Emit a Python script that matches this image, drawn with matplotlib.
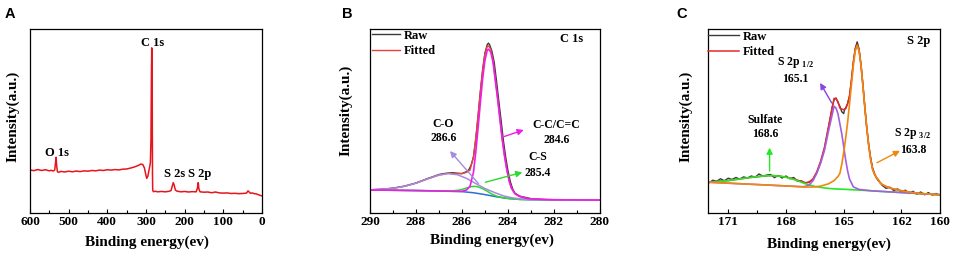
import numpy as np
import matplotlib
matplotlib.use("Agg")
import matplotlib.pyplot as plt

plt.rcParams['font.family'] = ['Liberation Serif', 'DejaVu Serif']
plt.rcParams['font.weight'] = 'bold'
plt.rcParams['mathtext.fontset'] = 'custom'
plt.rcParams['mathtext.rm'] = 'Liberation Serif:bold'
plt.rcParams['mathtext.bf'] = 'Liberation Serif:bold'

# ---------------- A: survey spectrum ----------------
survey_x = [600, 590, 580, 570, 560, 550, 545, 540, 536, 534, 532.5, 531, 529, 526, 520, 510, 500,
            490, 480, 470, 460, 450, 440, 430, 420, 410, 400, 390, 380, 370, 360, 350, 340, 330,
            320, 313, 308, 304, 301, 298, 295, 292, 290, 288.5, 287, 286, 285, 284, 283.5, 283,
            282.5, 281, 275, 270, 260, 250, 240, 235, 232, 229.5, 227, 224, 220, 210, 200, 190,
            180, 170, 167, 164.7, 163, 160, 150, 140, 130, 120, 110, 100, 90, 80, 70, 60, 50, 40,
            36, 33, 30, 25, 20, 15, 10, 5, 0]
survey_y = [23.4, 23.0, 23.6, 23.1, 23.5, 22.9, 23.2, 22.8, 23.3, 27.0, 30.3, 26.0, 22.4, 22.1, 22.6,
            22.3, 22.7, 22.4, 22.8, 22.5, 22.9, 22.7, 23.1, 22.9, 23.3, 23.1, 23.5, 23.3, 23.6, 23.4,
            23.8, 23.9, 24.4, 25.0, 25.8, 26.6, 26.3, 24.5, 21.5, 18.8, 20.0, 23.4, 25.5, 27.5, 40.0,
            70.0, 89.7, 80.0, 45.0, 20.0, 12.5, 11.6, 11.8, 11.5, 11.7, 11.5, 11.8, 12.2, 14.5, 16.5,
            15.2, 12.5, 11.9, 11.5, 11.7, 11.4, 11.6, 11.5, 13.5, 16.5, 13.0, 11.5, 11.3, 11.4, 11.0,
            11.4, 10.9, 10.8, 10.9, 10.6, 10.7, 10.5, 10.6, 10.8, 12.0, 11.4, 10.7, 10.9, 10.5, 10.4,
            10.0, 9.6, 9.3]

# ---------------- B: C 1s ----------------
c1s_raw_x = [290, 289.5, 289, 288.5, 288, 287.5, 287.2, 287, 286.8, 286.6, 286.4, 286.2, 286.0, 285.8,
             285.7, 285.6, 285.5, 285.4, 285.3, 285.2, 285.1, 285.0, 284.9, 284.85, 284.8, 284.7,
             284.6, 284.5, 284.4, 284.3, 284.2, 284.1, 284.0, 283.9, 283.8, 283.7, 283.5, 283.0,
             282.5, 282.0, 281.5, 281.0, 280.5, 280.0]
c1s_raw_y = [12.6, 12.9, 13.5, 14.6, 16.3, 18.7, 20.0, 20.9, 21.4, 21.7, 21.9, 21.6, 21.4, 22.5,
             23.5, 26.0, 30.5, 40.0, 52.5, 66.0, 78.0, 87.0, 91.5, 92.3, 91.5, 88.0, 82.0, 72.0,
             61.0, 50.5, 39.5, 30.5, 23.0, 17.2, 13.2, 10.8, 9.2, 7.8, 7.3, 7.0, 7.1, 6.9, 7.0, 6.9]
c1s_fit_x = [290, 289.5, 289, 288.5, 288, 287.5, 287, 286.6, 286.2, 286.0, 285.8, 285.65, 285.5, 285.4,
             285.3, 285.2, 285.1, 285.0, 284.9, 284.85, 284.75, 284.65, 284.55, 284.45, 284.35,
             284.25, 284.15, 284.05, 283.95, 283.85, 283.7, 283.5, 283.2, 283.0, 282.0, 280.0]
c1s_fit_y = [12.5, 12.8, 13.4, 14.5, 16.2, 18.5, 20.6, 21.5, 21.4, 21.4, 22.1, 23.3, 30.3, 40.6, 52.8,
             65.7, 77.6, 86.4, 90.5, 90.8, 89.0, 83.0, 72.8, 62.5, 51.4, 40.3, 31.2, 23.7, 17.6,
             13.6, 10.5, 9.0, 8.0, 7.6, 7.2, 7.0]
c1s_bg_x = [290, 288, 287, 286, 285.5, 285, 284.5, 284, 283.5, 283, 280]
c1s_bg_y = [12.5, 12.2, 12.0, 11.6, 11.0, 10.0, 8.8, 7.9, 7.4, 7.2, 7.0]
cs_x = [290, 287, 286.5, 286.2, 286.0, 285.8, 285.6, 285.45, 285.3, 285.1, 284.9, 284.7, 284.5,
        284.2, 283.8, 283.4, 280]
cs_y = [12.5, 12.0, 12.0, 12.3, 12.8, 13.6, 14.3, 14.5, 14.2, 13.2, 11.8, 10.3, 9.2, 8.2, 7.6, 7.3, 7.0]
co_x = [290, 289.5, 289, 288.5, 288, 287.5, 287, 286.6, 286.2, 285.8, 285.4, 285, 284.6, 284.2,
        283.8, 283.4, 283, 282, 280]
co_y = [12.6, 12.9, 13.4, 14.5, 16.2, 18.5, 20.6, 21.4, 20.8, 18.8, 16.0, 13.3, 11.2, 9.3, 8.2,
        7.6, 7.3, 7.1, 7.0]
cc_x = [290, 288, 286.5, 286.0, 285.8, 285.65, 285.5, 285.4, 285.3, 285.2, 285.1, 285.0, 284.9,
        284.85, 284.75, 284.65, 284.55, 284.45, 284.35, 284.25, 284.15, 284.05, 283.95, 283.85,
        283.7, 283.5, 283.2, 283.0, 282.0, 281.0, 280.0]
cc_y = [12.5, 12.2, 11.8, 11.8, 12.5, 14.5, 22.0, 33.0, 46.0, 60.0, 73.0, 83.0, 88.5, 89.0, 87.5,
        82.0, 72.0, 62.0, 51.0, 40.0, 31.0, 23.5, 17.5, 13.5, 10.5, 9.0, 8.0, 7.6, 7.2, 7.1, 7.0]

# ---------------- C: S 2p ----------------
s2p_raw_x = [172.0, 171.8, 171.6, 171.4, 171.2, 171.0, 170.8, 170.6, 170.4, 170.2, 170.0, 169.8,
             169.6, 169.4, 169.2, 169.0, 168.8, 168.6, 168.4, 168.2, 168.0, 167.8, 167.6, 167.4,
             167.2, 167.0, 166.8, 166.6, 166.4, 166.2, 166.0, 165.9, 165.8, 165.7, 165.6, 165.5,
             165.4, 165.3, 165.2, 165.1, 165.0, 164.95, 164.9, 164.8, 164.7, 164.6, 164.5, 164.4,
             164.3, 164.2, 164.1, 164.0, 163.9, 163.8, 163.7, 163.6, 163.5, 163.4, 163.3, 163.2,
             163.1, 163.0, 162.8, 162.6, 162.4, 162.2, 162.0, 161.8, 161.6, 161.4, 161.2, 161.0,
             160.8, 160.6, 160.4, 160.2, 160.0]
s2p_raw_y = [16.4, 17.8, 17.2, 18.6, 17.5, 18.9, 18.2, 19.3, 18.4, 19.6, 19.0, 20.1, 19.4, 21.2,
             20.0, 20.6, 20.9, 19.2, 20.4, 19.0, 20.1, 18.6, 19.3, 17.2, 17.5, 16.2, 16.9, 18.2,
             22.0, 27.5, 35.0, 40.5, 46.0, 51.5, 57.5, 61.5, 62.5, 60.0, 58.0, 55.0, 54.0, 56.5,
             57.0, 59.5, 63.5, 72.0, 82.0, 89.5, 93.0, 89.0, 80.5, 69.5, 57.0, 46.0, 37.0, 30.0,
             24.5, 21.5, 19.0, 17.5, 16.5, 15.0, 13.4, 14.0, 12.2, 13.1, 11.3, 12.4, 10.6, 11.8,
             10.2, 11.4, 9.9, 11.1, 9.7, 10.6, 9.6]
s2p_fit_x = [172, 171, 170, 169, 168.7, 168.3, 168, 167.5, 167, 166.8, 166.6, 166.4, 166.2, 166.0,
             165.8, 165.65, 165.5, 165.4, 165.3, 165.2, 165.1, 165.0, 164.9, 164.8, 164.7, 164.6,
             164.5, 164.4, 164.3, 164.2, 164.1, 164.0, 163.9, 163.8, 163.7, 163.6, 163.5, 163.4,
             163.3, 163.2, 163.1, 163.0, 162.8, 162.5, 162.0, 161.5, 161.0, 160.0]
s2p_fit_y = [16.9, 17.6, 19.1, 20.2, 20.35, 20.0, 19.5, 18.2, 16.5, 16.6, 18.5, 22.3, 28.1, 35.7,
             46.4, 54.4, 62.3, 62.1, 60.6, 57.0, 56.5, 56.1, 56.6, 59.2, 63.4, 72.0, 81.8, 88.9,
             91.5, 88.2, 80.1, 69.0, 57.2, 46.0, 36.6, 29.1, 23.8, 21.0, 19.3, 18.0, 16.3, 15.5,
             14.4, 13.3, 12.1, 11.2, 10.6, 9.9]
sulfate_x = [172, 171.5, 171, 170.5, 170, 169.5, 169, 168.7, 168.3, 168, 167.5, 167, 166.5, 166,
             165.5, 165, 164, 163, 162, 161, 160]
sulfate_y = [16.8, 17.1, 17.6, 18.3, 19.1, 19.8, 20.2, 20.3, 20.0, 19.4, 17.9, 15.9, 14.4, 13.6,
             13.1, 12.9, 12.3, 11.7, 11.1, 10.5, 9.9]
s2p12_x = [172, 168, 167.2, 167.0, 166.8, 166.6, 166.4, 166.2, 166.0, 165.8, 165.65, 165.5, 165.4,
           165.3, 165.2, 165.1, 165.0, 164.9, 164.8, 164.7, 164.5, 164.2, 163.5, 162, 160]
s2p12_y = [16.7, 14.7, 14.3, 14.4, 15.2, 17.5, 21.5, 27.0, 34.0, 44.0, 51.0, 58.0, 57.0, 54.0,
           48.5, 43.0, 36.0, 29.0, 23.0, 18.5, 14.2, 12.8, 12.0, 11.1, 9.9]
s2p32_x = [172, 170, 168, 167, 166.6, 166.2, 165.8, 165.5, 165.3, 165.2, 165.1, 165.0, 164.9, 164.8,
           164.7, 164.6, 164.5, 164.4, 164.3, 164.2, 164.1, 164.0, 163.9, 163.8, 163.7, 163.6,
           163.5, 163.4, 163.3, 163.2, 163.1, 163.0, 162.8, 162.5, 162.0, 161.5, 161.0, 160.0]
s2p32_y = [16.7, 15.7, 14.7, 14.1, 14.1, 14.6, 15.8, 17.6, 19.8, 21.5, 26.5, 33.0, 40.5, 49.0,
           59.0, 69.5, 80.0, 88.0, 91.0, 87.9, 79.9, 68.8, 57.1, 46.0, 36.5, 29.0, 23.7, 21.0,
           19.3, 18.0, 16.3, 15.5, 14.4, 13.3, 12.1, 11.2, 10.6, 9.9]

RAW = '#3a3a3a'
FIT = '#e8433a'

fig = plt.figure(figsize=(9.57, 2.56), dpi=100)
axA = fig.add_axes([0.0313, 0.168, 0.2424, 0.719])
axB = fig.add_axes([0.3866, 0.168, 0.2403, 0.719])
axC = fig.add_axes([0.7398, 0.168, 0.2424, 0.719])


def style(ax, xlim, major, minor, lab_xy):
    ax.set_xlim(*xlim)
    ax.set_ylim(0, 100)
    ax.set_xticks(major)
    ax.set_xticks(minor, minor=True)
    ax.set_yticks([])
    ax.tick_params(axis='x', which='major', direction='in', length=3, width=0.8,
                   labelsize=9.5, pad=2.5)
    ax.tick_params(axis='x', which='minor', direction='in', length=2, width=0.8)
    for lbl in ax.get_xticklabels():
        lbl.set_fontweight('bold')
    for s in ax.spines.values():
        s.set_linewidth(0.9)
    ax.set_xlabel('Binding energy(ev)', fontsize=11, fontweight='bold')
    ax.set_ylabel('Intensity(a.u.)', fontsize=11, fontweight='bold')
    ax.xaxis.set_label_coords(lab_xy[0], lab_xy[1])
    ax.yaxis.set_label_coords(lab_xy[2], lab_xy[3])


# A
axA.plot(survey_x, survey_y, color='#e8141c', lw=1.1)
style(axA, (600, 0), range(600, -1, -100), range(550, 0, -100), (0.503, -0.125, -0.045, 0.527))
for txt, x, y in [('C 1s', 283, 92.5), ('O 1s', 531, 32.5), ('S 2s', 225, 21), ('S 2p', 160, 21)]:
    axA.text(x, y, txt, fontsize=9, fontweight='bold', ha='center', va='center')

# B
axB.plot(c1s_raw_x, c1s_raw_y, color=RAW, lw=1.0, label='Raw')
axB.plot(c1s_fit_x, c1s_fit_y, color=FIT, lw=1.0, label='Fitted')
axB.plot(c1s_bg_x, c1s_bg_y, color='#2f6fd0', lw=1.1)
axB.plot(cs_x, cs_y, color='#2fd82f', lw=1.1)
axB.plot(co_x, co_y, color='#a58be0', lw=1.1)
axB.plot(cc_x, cc_y, color='#ee1ee6', lw=1.2)
style(axB, (290, 280), range(290, 279, -2), range(289, 280, -2), (0.529, -0.11, -0.075, 0.56))
axB.text(280.75, 94.5, 'C 1s', fontsize=9, fontweight='bold', ha='right', va='center')
axB.annotate('', xy=(286.6, 34.8), xytext=(285.2, 14.8),
             arrowprops=dict(arrowstyle='-|>', color='#a58be0', lw=1.0, mutation_scale=9))
axB.text(286.8, 44.5, 'C-O\n286.6', fontsize=8.5, fontweight='bold', ha='center', va='center',
         linespacing=1.15)
axB.annotate('', xy=(283.2, 45.6), xytext=(284.27, 41.1),
             arrowprops=dict(arrowstyle='-|>', color='#ee1ee6', lw=1.0, mutation_scale=9))
axB.text(281.9, 43.6, 'C-C/C=C\n284.6', fontsize=8.5, fontweight='bold', ha='center', va='center',
         linespacing=1.3)
axB.annotate('', xy=(283.26, 22.5), xytext=(285.1, 16.3),
             arrowprops=dict(arrowstyle='-|>', color='#2fd82f', lw=1.0, mutation_scale=9))
axB.text(282.7, 26.0, 'C-S\n285.4', fontsize=8.5, fontweight='bold', ha='center', va='center',
         linespacing=1.4)
axB.legend(loc='upper left', bbox_to_anchor=(0.0, 1.01), frameon=False, fontsize=9,
           handlelength=2.2, handletextpad=0.3, labelspacing=0.3, borderaxespad=0.1,
           borderpad=0.1)

# C
axC.plot(s2p_raw_x, s2p_raw_y, color=RAW, lw=1.0, label='Raw')
axC.plot(s2p_fit_x, s2p_fit_y, color='#e8282e', lw=1.1, label='Fitted')
axC.plot(sulfate_x, sulfate_y, color='#26e826', lw=1.2)
axC.plot(s2p12_x, s2p12_y, color='#a55fdc', lw=1.2)
axC.plot(s2p32_x, s2p32_y, color='#f0880e', lw=1.2)
style(axC, (172.05, 160), [171, 168, 165, 162, 160], [169.5, 166.5, 163.5],
      (0.52, -0.135, -0.065, 0.527))
axC.text(161.1, 93.6, 'S 2p', fontsize=9, fontweight='bold', ha='center', va='center')
axC.annotate('', xy=(168.85, 37.0), xytext=(168.85, 21.3),
             arrowprops=dict(arrowstyle='-|>', color='#26e826', lw=1.0, mutation_scale=9))
axC.text(169.06, 46.8, 'Sulfate\n168.6', fontsize=8.5, fontweight='bold', ha='center',
         va='center', linespacing=1.3)
axC.annotate('', xy=(166.3, 72.0), xytext=(165.55, 58.5),
             arrowprops=dict(arrowstyle='-|>', color='#8a45e0', lw=1.0, mutation_scale=9))
axC.text(167.5, 77.5, 'S 2p $_{1/2}$\n165.1', fontsize=8.5, fontweight='bold', ha='center',
         va='center', linespacing=1.3)
axC.annotate('', xy=(161.95, 34.5), xytext=(163.4, 26.6),
             arrowprops=dict(arrowstyle='-|>', color='#f0880e', lw=1.0, mutation_scale=9))
axC.text(161.4, 39.2, 'S 2p $_{3/2}$\n163.8', fontsize=8.5, fontweight='bold', ha='center',
         va='center', linespacing=1.3)
axC.legend(loc='upper left', bbox_to_anchor=(-0.01, 1.005), frameon=False, fontsize=9,
           handlelength=2.5, handletextpad=0.3, labelspacing=0.3, borderaxespad=0.1,
           borderpad=0.1)

# panel letters
for letter, x in [('A', 0.005), ('B', 0.357), ('C', 0.707)]:
    fig.text(x, 0.945, letter, fontsize=10.5, fontweight='bold', family='Liberation Sans',
             va='center', ha='left')

fig.savefig('out.png', dpi=100)
